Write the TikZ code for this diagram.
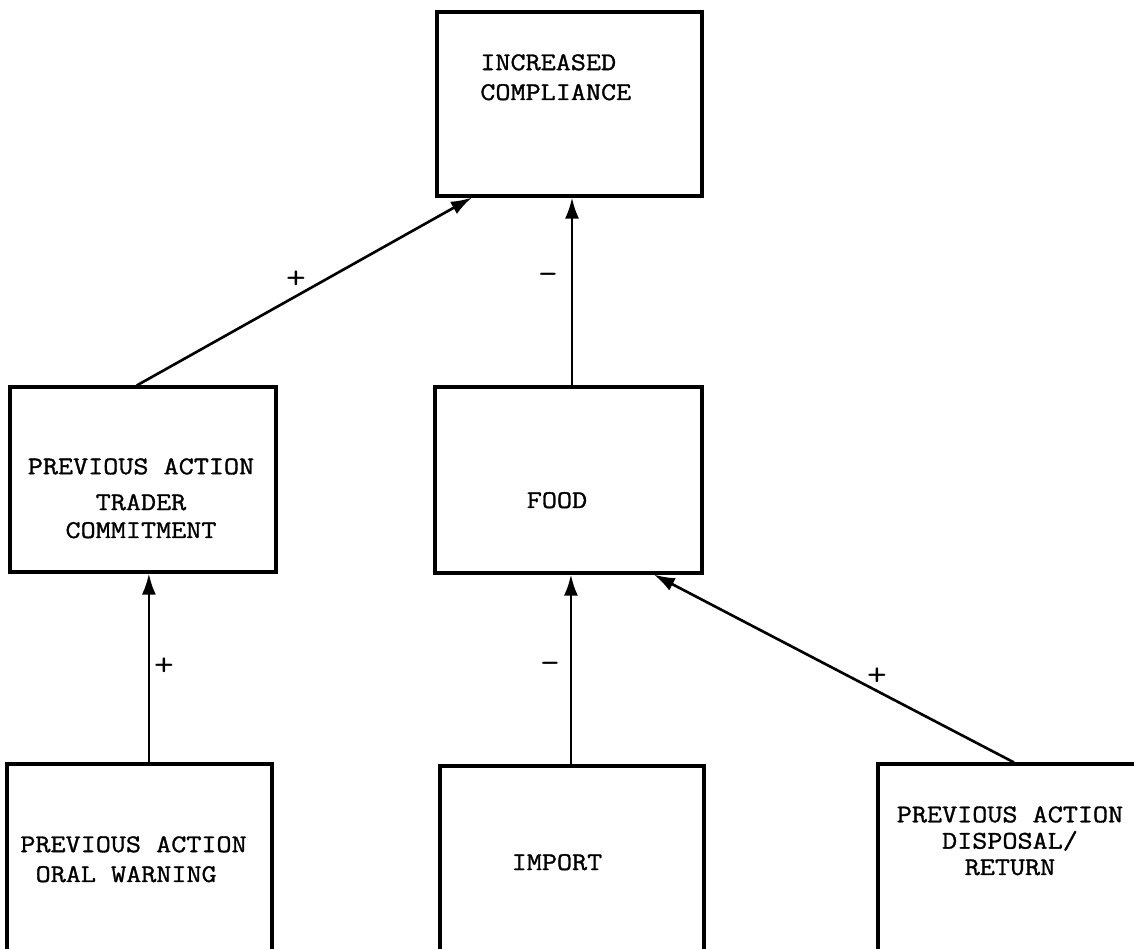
\documentclass[tikz,border=0pt]{standalone}
\usepackage{fontspec}
\usetikzlibrary{arrows.meta,calc}

\newfontfamily\typefont[FakeStretch=1.15,FakeBold=1.2]{Latin Modern Mono}
\newfontfamily\signfont[FakeStretch=1.15]{Latin Modern Mono}

\tikzset{
  box/.style={draw, line width=1.8pt, inner sep=0pt, rectangle},
  boxtext/.style={inner sep=0pt, font=\typefont\fontsize{14.5pt}{17pt}\selectfont},
  sign/.style={inner sep=0pt, font=\signfont\fontsize{19pt}{20pt}\selectfont},
  link/.style={line width=1.5pt, -{Latex[length=0.42cm,width=0.28cm]}}
}

\begin{document}
\begin{tikzpicture}[x=0.02cm, y=-0.02cm]
\useasboundingbox (0,0) rectangle (1134,949);
\clip (0,0) rectangle (1134,949);

% boxes
\node[box, minimum width=5.30cm, minimum height=3.68cm] (ic)     at (569.5,104)  {};
\node[box, minimum width=5.32cm, minimum height=3.70cm] (patc)   at (143,479.5)  {};
\node[box, minimum width=5.34cm, minimum height=3.72cm] (food)   at (568.5,480)  {};
\node[box, minimum width=5.30cm, minimum height=3.82cm] (pow)    at (139.5,859.5) {};
\node[box, minimum width=5.28cm, minimum height=3.78cm] (import) at (572,860.5)  {};
\node[box, minimum width=5.44cm, minimum height=3.82cm] (padr)   at (1014,859.5) {};

% box texts (anchored at the baseline of the last line)
\node[boxtext, anchor=base west, align=left] (ictext) at (480,100)
  {INCREASED\\COMPLIANCE};
\node[boxtext, anchor=base, align=center] (patctext) at (141,538)
  {PREVIOUS ACTION\\[3.4pt]TRADER\\[-1.1pt]COMMITMENT};
\node[boxtext, anchor=base] (foodtext) at (557,508) {FOOD};
\node[boxtext, anchor=base west, align=left] (powtext) at (20,882)
  {PREVIOUS ACTION\\\hspace*{0.6em}ORAL WARNING};
\node[boxtext, anchor=base] (importtext) at (557,870) {IMPORT};
\node[boxtext, anchor=base, align=center, font=\typefont\fontsize{14.5pt}{15pt}\selectfont] (padrtext) at (1010,875)
  {PREVIOUS ACTION\\DISPOSAL/\\RETURN};

% connectors
\coordinate (icin1) at ($(ic.south west)!0.136!(ic.south east)$);
\coordinate (patcout) at ($(patc.north west)!0.477!(patc.north east)$);
\draw[link] (patcout) -- (icin1);

\coordinate (foodout) at ($(food.north west)!0.513!(food.north east)$);
\draw[link] (foodout) -- (foodout |- ic.south);

\coordinate (powout) at ($(pow.north west)!0.535!(pow.north east)$);
\draw[link] (powout) -- (powout |- patc.south);

\coordinate (importout) at ($(import.north west)!0.496!(import.north east)$);
\draw[link] (importout) -- (importout |- food.south);

\coordinate (foodin2) at ($(food.south west)!0.816!(food.south east)$);
\draw[link] (padr.north) -- (foodin2);

% signs
\node[sign] (s1) at (296,280) {+};
\node[sign] (s2) at (548,279) {\textbf{-}};
\node[sign] (s3) at (164,667) {+};
\node[sign] (s4) at (550,668) {\textbf{-}};
\node[sign] (s5) at (877,677) {+};
\end{tikzpicture}
\end{document}
